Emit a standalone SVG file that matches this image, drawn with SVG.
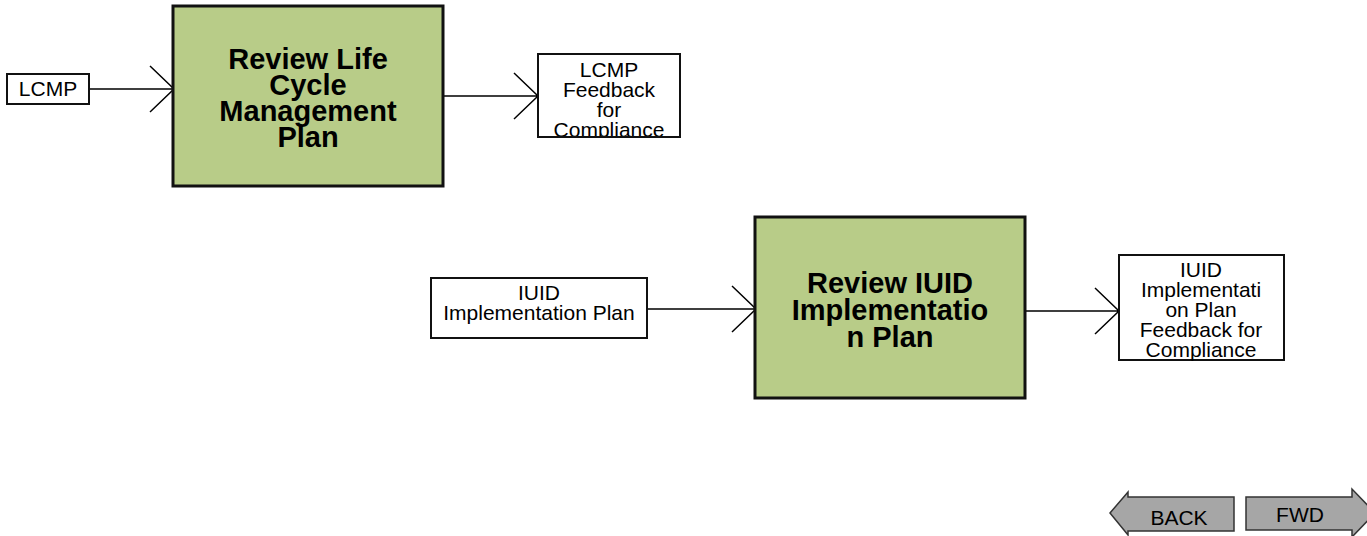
<svg xmlns="http://www.w3.org/2000/svg" width="1367" height="536" viewBox="0 0 1367 536">
<style>
.proc{fill:#b8cc88;stroke:#111;stroke-width:3}
.box{fill:#fff;stroke:#111;stroke-width:2}
.t{font-family:"Liberation Sans",Arial,sans-serif;font-size:21px;text-anchor:middle;fill:#000}
.tb{font-family:"Liberation Sans",Arial,sans-serif;font-size:29px;font-weight:bold;text-anchor:middle;fill:#000}
.ln{fill:none;stroke:#000;stroke-width:1.5}
.btn{fill:#a6a6a6;stroke:#333;stroke-width:1.5}
</style>
<rect width="1367" height="536" fill="#fff"/>
<g id="connectors">
<path class="ln" d="M89 89H174M150 66L174 89L150 112"/>
<path class="ln" d="M443 96H538M514 73L538 96L514 119"/>
<path class="ln" d="M647 309H756M732 286L756 309L732 332"/>
<path class="ln" d="M1025 311H1119M1095 288L1119 311L1095 334"/>
</g>
<g id="lcmp">
<rect class="box" x="7" y="74" width="82" height="30"/>
<text class="t" x="48" y="96">LCMP</text>
</g>
<g id="review-lcmp">
<rect class="proc" x="173" y="6" width="270" height="180"/>
<text class="tb" x="308" y="69">Review Life</text>
<text class="tb" x="308" y="95">Cycle</text>
<text class="tb" x="308" y="121">Management</text>
<text class="tb" x="308" y="147">Plan</text>
</g>
<g id="lcmp-feedback">
<rect class="box" x="538" y="54" width="142" height="83"/>
<text class="t" x="609" y="77">LCMP</text>
<text class="t" x="609" y="97">Feedback</text>
<text class="t" x="609" y="117">for</text>
<text class="t" x="609" y="137">Compliance</text>
<rect x="539" y="138" width="140" height="6" fill="#fff"/>
<line x1="538" y1="137" x2="680" y2="137" stroke="#111" stroke-width="2"/>
</g>
<g id="iuid-plan">
<rect class="box" x="431" y="278" width="216" height="60"/>
<text class="t" x="539" y="300">IUID</text>
<text class="t" x="539" y="320">Implementation Plan</text>
</g>
<g id="review-iuid">
<rect class="proc" x="755" y="217" width="270" height="181"/>
<text class="tb" x="890" y="293">Review IUID</text>
<text class="tb" x="890" y="320">Implementatio</text>
<text class="tb" x="890" y="347">n Plan</text>
</g>
<g id="iuid-feedback">
<rect class="box" x="1119" y="255" width="165" height="105"/>
<text class="t" x="1201" y="277">IUID</text>
<text class="t" x="1201" y="297">Implementati</text>
<text class="t" x="1201" y="317">on Plan</text>
<text class="t" x="1201" y="337">Feedback for</text>
<text class="t" x="1201" y="357">Compliance</text>
</g>
<g id="back">
<path class="btn" d="M1110 513L1128 492V497H1234V531H1128V535Z"/>
<text class="t" x="1179" y="525">BACK</text>
</g>
<g id="fwd">
<path class="btn" d="M1246 497H1352V489L1375 513L1352 537V530H1246Z"/>
<text class="t" x="1300" y="522">FWD</text>
</g>
</svg>
